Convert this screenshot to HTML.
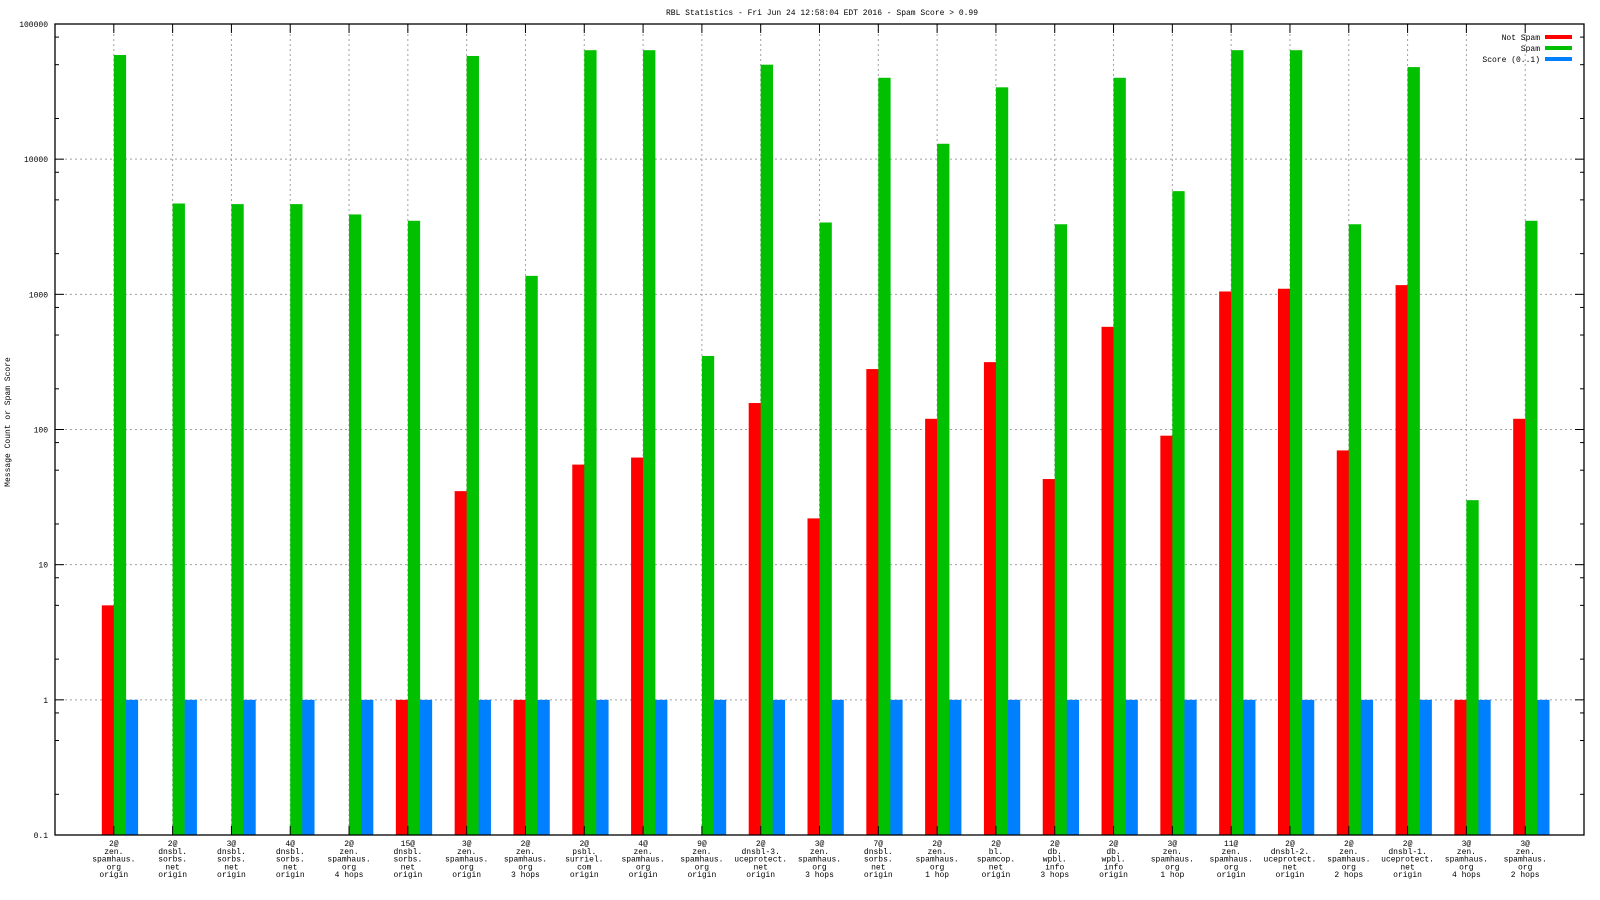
<!DOCTYPE html>
<html><head><meta charset="utf-8"><style>
html,body{margin:0;padding:0;background:#fff;}
svg{display:block;font-family:"Liberation Mono","DejaVu Sans Mono",monospace;}
</style></head><body>
<svg id="chart" width="1600" height="900" xmlns="http://www.w3.org/2000/svg">
<text x="822" y="15" font-size="8" text-anchor="middle">RBL Statistics - Fri Jun 24 12:58:04 EDT 2016 - Spam Score &gt; 0.99</text>
<text x="0" y="0" font-size="8" text-anchor="middle" transform="translate(10,422) rotate(-90)">Message Count or Spam Score</text>
<g id="grid"></g><g id="bars"></g><g id="axes"></g><g id="labels"></g>
<g>
<text x="1540" y="40" font-size="8" text-anchor="end">Not Spam</text><rect x="1545" y="35" width="27" height="4" fill="#ff0000"/>
<text x="1540" y="51" font-size="8" text-anchor="end">Spam</text><rect x="1545" y="46" width="27" height="4" fill="#00c000"/>
<text x="1540" y="62" font-size="8" text-anchor="end">Score (0..1)</text><rect x="1545" y="57" width="27" height="4" fill="#0080ff"/>
</g>
</svg>
<script>
const categories = [
 ["2@","zen.","spamhaus.","org","origin"],["2@","dnsbl.","sorbs.","net","origin"],["3@","dnsbl.","sorbs.","net","origin"],["4@","dnsbl.","sorbs.","net","origin"],["2@","zen.","spamhaus.","org","4 hops"],["15@","dnsbl.","sorbs.","net","origin"],["3@","zen.","spamhaus.","org","origin"],["2@","zen.","spamhaus.","org","3 hops"],["2@","psbl.","surriel.","com","origin"],["4@","zen.","spamhaus.","org","origin"],["9@","zen.","spamhaus.","org","origin"],["2@","dnsbl-3.","uceprotect.","net","origin"],["3@","zen.","spamhaus.","org","3 hops"],["7@","dnsbl.","sorbs.","net","origin"],["2@","zen.","spamhaus.","org","1 hop"],["2@","bl.","spamcop.","net","origin"],["2@","db.","wpbl.","info","3 hops"],["2@","db.","wpbl.","info","origin"],["3@","zen.","spamhaus.","org","1 hop"],["11@","zen.","spamhaus.","org","origin"],["2@","dnsbl-2.","uceprotect.","net","origin"],["2@","zen.","spamhaus.","org","2 hops"],["2@","dnsbl-1.","uceprotect.","net","origin"],["3@","zen.","spamhaus.","org","4 hops"],["3@","zen.","spamhaus.","org","2 hops"]];
const notSpam = [5,0,0,0,0,1,35,1,55,62,0,157,22,280,120,315,43,575,90,1050,1100,70,1170,1,120];
const spam = [59000,4700,4650,4650,3900,3500,58000,1370,64000,64000,350,50000,3400,40000,13000,34000,3300,40000,5800,64000,64000,3300,48000,30,3500];
const score = [1,1,1,1,1,1,1,1,1,1,1,1,1,1,1,1,1,1,1,1,1,1,1,1,1];
const yTicks = [0.1,1,10,100,1000,10000,100000];
const yTickLabels = ["0.1","1","10","100","1000","10000","100000"];

const NS="http://www.w3.org/2000/svg";
const L=55,R=1584,T=24,B=835;
const slot=(R-L)/(categories.length+1);
const xC=i=>L+(i+1)*slot;
const y=v=>B-(Math.log10(v)+1)/6*(B-T);
function mk(tag,attrs,parent){const e=document.createElementNS(NS,tag);for(const k in attrs)e.setAttribute(k,attrs[k]);document.getElementById(parent).appendChild(e);return e;}
yTicks.forEach((v,k)=>{
 const yy=y(v);
 if(k>0&&k<yTicks.length-1){const g=mk('line',{x1:L,x2:R,y1:yy,y2:yy,stroke:'#a0a0a0','stroke-dasharray':'2,3'},'grid');
 
 }
 const t=mk('text',{x:L-7,y:yy+3,'font-size':8,'text-anchor':'end'},'labels');t.textContent=yTickLabels[k];
 
 
 mk('line',{x1:L,x2:L+9,y1:yy,y2:yy,stroke:'#000'},'axes');mk('line',{x1:R,x2:R-9,y1:yy,y2:yy,stroke:'#000'},'axes');
 if(k<yTicks.length-1){[2,5,8].forEach(m=>{const my=y(v*m);mk('line',{x1:L,x2:L+4,y1:my,y2:my,stroke:'#000'},'axes');mk('line',{x1:R,x2:R-4,y1:my,y2:my,stroke:'#000'},'axes');});}
});
categories.forEach((c,i)=>{
 const cx=xC(i);
 const g=mk('line',{x1:cx,x2:cx,y1:T,y2:B,stroke:'#a0a0a0','stroke-dasharray':'2,3'},'grid');
 
 
 mk('line',{x1:cx,x2:cx,y1:T,y2:T+9,stroke:'#000'},'axes');mk('line',{x1:cx,x2:cx,y1:B,y2:B-9,stroke:'#000'},'axes');
 [[notSpam,'#ff0000',-12,'bar-not-spam'],[spam,'#00c000',0,'bar-spam'],[score,'#0080ff',12,'bar-score']].forEach(([arr,col,off,name])=>{
  const v=arr[i]; if(!(v>0))return;
  const top=y(v);
  const r=mk('rect',{x:cx+off,y:top,width:12.3,height:B-top,fill:col},'bars');
  
  
 });
 c.forEach((line,j)=>{
  const t=mk('text',{x:cx,y:846+j*7.8,'font-size':8,'text-anchor':'middle'},'labels');t.textContent=line;
  
  
 });
});
const f=mk('rect',{x:L,y:T,width:R-L,height:B-T,fill:'none',stroke:'#000','stroke-width':1.3},'axes');


</script>
</body></html>
